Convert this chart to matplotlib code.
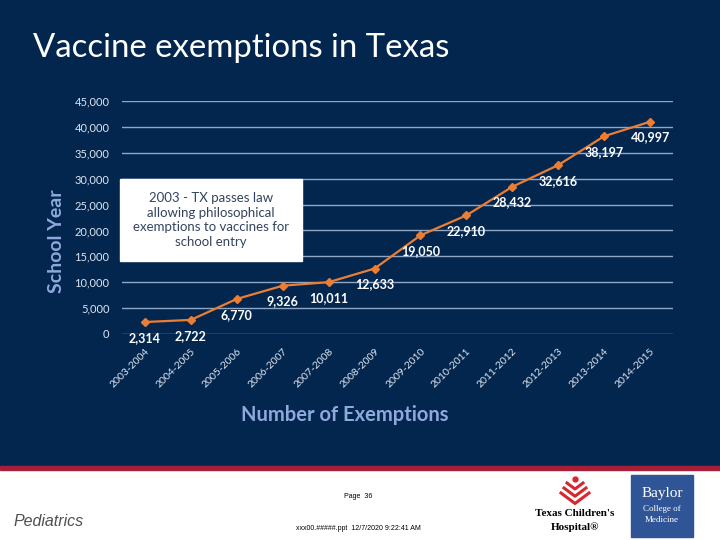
import matplotlib
matplotlib.use("Agg")
import matplotlib.pyplot as plt
from matplotlib.patches import Rectangle
from matplotlib.lines import Line2D

# data
school_years = ["2003-2004", "2004-2005", "2005-2006", "2006-2007", "2007-2008", "2008-2009",
                "2009-2010", "2010-2011", "2011-2012", "2012-2013", "2013-2014", "2014-2015"]
exemptions = [2314, 2722, 6770, 9326, 10011, 12633, 19050, 22910, 28432, 32616, 38197, 40997]
y_ticks = [0, 5000, 10000, 15000, 20000, 25000, 30000, 35000, 40000, 45000]

navy = "#03264f"
light_blue = "#8eaadb"
grid_col = "#8fa7c6"
orange = "#ed7d31"

plt.rcParams["font.family"] = ["Lato", "DejaVu Sans"]

W, H = 720, 540
fig = plt.figure(figsize=(7.2, 5.4), dpi=100)
fig.patch.set_facecolor("white")

def fx(px):
    return px / W

def fy(py):
    return 1 - py / H

# slide background + red stripe
fig.add_artist(Rectangle((0, fy(466)), 1, 1 - fy(466), transform=fig.transFigure,
                         color=navy, zorder=-2))
fig.add_artist(Rectangle((0, fy(470)), 1, fy(466) - fy(470), transform=fig.transFigure,
                         color="#a61f38", zorder=-2))

# chart
ax = fig.add_axes([fx(122), fy(334), fx(673) - fx(122), fy(101) - fy(334)])
ax.set_facecolor("none")
x = list(range(len(school_years)))
ax.plot(x, exemptions, color=orange, lw=1.6, marker="D", ms=4, zorder=3)
ax.set_xlim(-0.5, len(school_years) - 0.5)
ax.set_ylim(0, 45000)
ax.set_yticks(y_ticks)
ax.set_yticklabels([f"{v:,}" for v in y_ticks])
ax.set_xticks(x)
ax.set_xticklabels(school_years, rotation=45, ha="right", rotation_mode="anchor")
ax.tick_params(axis="y", length=0, pad=9, labelsize=8, labelcolor="#dfe6ef")
ax.tick_params(axis="x", length=0, pad=9, labelsize=7.5, labelcolor="#dfe6ef")
ax.grid(axis="y", color=grid_col, lw=1)
ax.set_axisbelow(True)
for s in ax.spines.values():
    s.set_visible(False)

for xi, v in zip(x, exemptions):
    ax.annotate(f"{v:,}", xy=(xi, v), xytext=(0, -7), textcoords="offset points",
                ha="center", va="top", color="white", fontsize=9, fontweight="bold")

# axis titles
fig.text(fx(57), fy(241), "School Year", rotation=90, ha="center", va="center",
         color=light_blue, fontsize=14, fontweight="bold")
fig.text(fx(345), fy(415), "Number of Exemptions", ha="center", va="center",
         color=light_blue, fontsize=14.5, fontweight="bold")

# annotation box
fig.add_artist(Rectangle((fx(120), fy(261)), fx(302) - fx(120), fy(179) - fy(261),
                         transform=fig.transFigure, color="white", zorder=5))
fig.text(fx(211), fy(220), "2003 - TX passes law\nallowing philosophical\nexemptions to vaccines for\nschool entry",
         ha="center", va="center", color="#34445f", fontsize=9.5, linespacing=1.25, zorder=6)

# slide title
fig.text(fx(33), fy(48), "Vaccine exemptions in Texas", ha="left", va="center",
         color="white", fontsize=23.7)

# footer
fig.text(fx(14), fy(522), "Pediatrics", ha="left", va="center", color="#505050",
         fontsize=11.5, style="italic", family="Liberation Sans")
fig.text(fx(358), fy(497), "Page  36", ha="center", va="center", color="black",
         fontsize=5, family="Liberation Sans")
fig.text(fx(358), fy(529), "xxx00.#####.ppt  12/7/2020 9:22:41 AM", ha="center", va="center",
         color="black", fontsize=5, family="Liberation Sans")

# Texas Children's logo
red = "#d7262e"
fig.add_artist(Line2D([fx(575)], [fy(479)], marker="o", ms=3.5, color=red,
                      transform=fig.transFigure))
for hw, y0 in [(8, 483), (11, 488), (14, 493)]:
    fig.add_artist(Line2D([fx(575 - hw), fx(575), fx(575 + hw)],
                          [fy(y0), fy(y0 + hw * 0.75), fy(y0)],
                          color=red, lw=2.2, transform=fig.transFigure))
fig.text(fx(575), fy(513), "Texas Children's", ha="center", va="center", color="black",
         fontsize=8, fontweight="bold", family="Liberation Serif")
fig.text(fx(575), fy(527), "Hospital\u00ae", ha="center", va="center", color="black",
         fontsize=8, fontweight="bold", family="Liberation Serif")

# Baylor logo
fig.add_artist(Rectangle((fx(631), fy(537)), fx(693) - fx(631), fy(475) - fy(537),
                         transform=fig.transFigure, color="#2f5597"))
fig.text(fx(662), fy(494), "Baylor", ha="center", va="center", color="white",
         fontsize=11, family="Liberation Serif")
fig.text(fx(662), fy(509), "College of", ha="center", va="center", color="white",
         fontsize=6.5, family="Liberation Serif")
fig.text(fx(662), fy(520), "Medicine", ha="center", va="center", color="white",
         fontsize=6.5, family="Liberation Serif")

fig.savefig("out.png", dpi=100, facecolor=fig.get_facecolor())
